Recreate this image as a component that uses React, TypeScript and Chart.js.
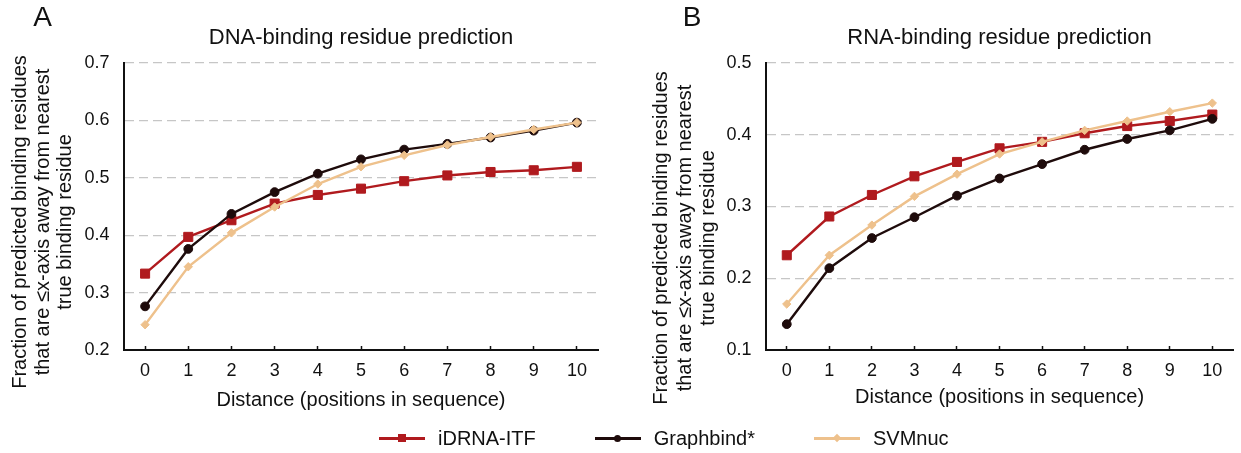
import React, { useEffect, useRef } from 'react';
import { Chart, registerables } from 'chart.js';

Chart.register(...registerables);

const FONT = "'Liberation Sans', Arial, Helvetica, sans-serif";

const distances = ['0', '1', '2', '3', '4', '5', '6', '7', '8', '9', '10'];

const dnaIdrna = [0.333, 0.397, 0.426, 0.455, 0.470, 0.481, 0.494, 0.504, 0.510, 0.513, 0.519];
const dnaGraphbind = [0.276, 0.376, 0.437, 0.475, 0.507, 0.532, 0.549, 0.559, 0.570, 0.582, 0.596];
const dnaSvmnuc = [0.244, 0.345, 0.404, 0.449, 0.489, 0.519, 0.539, 0.557, 0.571, 0.584, 0.596];

const rnaIdrna = [0.232, 0.286, 0.316, 0.342, 0.362, 0.381, 0.390, 0.402, 0.412, 0.419, 0.428];
const rnaGraphbind = [0.136, 0.214, 0.256, 0.285, 0.315, 0.339, 0.359, 0.379, 0.394, 0.406, 0.422];
const rnaSvmnuc = [0.164, 0.232, 0.274, 0.314, 0.345, 0.373, 0.390, 0.406, 0.419, 0.432, 0.444];

const dnaTicks = [0.2, 0.3, 0.4, 0.5, 0.6, 0.7];
const rnaTicks = [0.1, 0.2, 0.3, 0.4, 0.5];

const seriesNames = ['iDRNA-ITF', 'Graphbind*', 'SVMnuc'];
const seriesColors = ['#B01A1E', '#1E0B0B', '#EEC18C'];
const seriesPointStyles = ['rect', 'circle', 'rectRot'];
const seriesPointRadius = [6.4, 4.4, 4.2];

const yTitleLines = [
  'Fraction of predicted binding residues',
  'that are ≤x-axis away from nearest',
  'true binding residue',
];
const xTitle = 'Distance (positions in sequence)';

const textPlugin = {
  id: 'panelText',
  afterDraw(chart: any, _args: any, opts: any) {
    const ctx = chart.ctx;
    ctx.save();
    ctx.fillStyle = '#111';
    ctx.textAlign = 'center';
    ctx.textBaseline = 'middle';
    ctx.font = `28px ${FONT}`;
    ctx.fillText(opts.letter, opts.letterX, opts.letterY);
    ctx.font = `20px ${FONT}`;
    opts.lines.forEach((line: string, i: number) => {
      ctx.save();
      ctx.translate(opts.lineX[i], opts.lineY);
      ctx.rotate(-Math.PI / 2);
      ctx.fillText(line, 0, 0);
      ctx.restore();
    });
    ctx.restore();
  },
};

type PanelProps = {
  letter: string;
  title: string;
  series: number[][];
  ticks: number[];
  left: number;
  width: number;
  areaLeft: number;
  padRight: number;
  padBottom: number;
  xAxisHeight: number;
  lineX: number[];
  lineY: number;
  letterX: number;
};

function Panel(p: PanelProps) {
  const ref = useRef<HTMLCanvasElement | null>(null);
  useEffect(() => {
    if (!ref.current) return;
    const min = p.ticks[0];
    const max = p.ticks[p.ticks.length - 1];
    const chart = new Chart(ref.current, {
      type: 'line',
      data: {
        labels: distances,
        datasets: p.series.map((d, i) => ({
          label: seriesNames[i],
          data: d,
          borderColor: seriesColors[i],
          backgroundColor: seriesColors[i],
          pointBackgroundColor: seriesColors[i],
          pointBorderColor: seriesColors[i],
          pointStyle: seriesPointStyles[i] as any,
          pointRadius: seriesPointRadius[i],
          pointBorderWidth: 1,
          borderWidth: 2.4,
          tension: 0,
          order: 3 - i,
        })),
      },
      options: {
        animation: false,
        responsive: false,
        maintainAspectRatio: false,
        layout: { padding: { left: 0, right: p.padRight, top: 0, bottom: p.padBottom } },
        plugins: {
          legend: { display: false },
          tooltip: { enabled: false },
          title: {
            display: true,
            text: p.title,
            fullSize: false,
            color: '#111',
            font: { size: 22, family: FONT, weight: 'normal' as any },
            padding: { top: 24.5, bottom: 12 },
          },
          panelText: {
            letter: p.letter,
            letterX: p.letterX,
            letterY: 18,
            lines: yTitleLines,
            lineX: p.lineX,
            lineY: p.lineY,
          },
        } as any,
        scales: {
          x: {
            type: 'category',
            offset: true,
            afterFit: (s: any) => {
              s.height = p.xAxisHeight;
            },
            grid: {
              display: true,
              drawOnChartArea: false,
              drawTicks: true,
              tickLength: -4,
              tickColor: '#111',
              tickWidth: 1.5,
              color: '#111',
            },
            border: { display: true, color: '#111', width: 2 },
            ticks: {
              color: '#111',
              font: { size: 18, family: FONT },
              padding: 14.5,
              maxRotation: 0,
              autoSkip: false,
            },
            title: {
              display: true,
              text: xTitle,
              color: '#111',
              font: { size: 20, family: FONT },
              padding: { top: 0, bottom: 0 },
            },
          },
          y: {
            type: 'linear',
            min,
            max,
            afterBuildTicks: (s: any) => {
              s.ticks = p.ticks.map((v) => ({ value: v }));
            },
            afterFit: (s: any) => {
              s.width = p.areaLeft;
            },
            grid: {
              drawTicks: false,
              lineWidth: 1.3,
              color: (c: any) => (c.tick && Math.abs(c.tick.value - min) < 1e-9 ? 'rgba(0,0,0,0)' : '#c6c6c6'),
            },
            border: { display: true, color: '#111', width: 2, dash: [9, 5] },
            ticks: {
              color: '#111',
              font: { size: 18, family: FONT },
              padding: 14,
              callback: (v: any) => Number(v).toFixed(1),
            },
          },
        },
      },
      plugins: [textPlugin as any],
    });
    return () => chart.destroy();
  }, []);
  return (
    <canvas
      ref={ref}
      width={p.width}
      height={453}
      style={{ position: 'absolute', left: p.left, top: 0, width: p.width, height: 453, display: 'block' }}
    />
  );
}

function LegendMarker({ i }: { i: number }) {
  const c = seriesColors[i];
  const base: React.CSSProperties = { position: 'absolute', background: c };
  let m: React.CSSProperties;
  if (i === 0) m = { ...base, width: 8, height: 8, left: 19, top: -3 };
  else if (i === 1) m = { ...base, width: 7, height: 7, left: 19.5, top: -2.5, borderRadius: '50%' };
  else m = { ...base, width: 6, height: 6, left: 20, top: -2, transform: 'rotate(45deg)' };
  return (
    <span style={{ position: 'relative', display: 'inline-block', width: 46, height: 2.4, background: c, marginRight: 13 }}>
      <span style={m} />
    </span>
  );
}

export default function App() {
  return (
    <div style={{ position: 'absolute', left: 0, top: 0, width: 1241, height: 453, background: '#fff', overflow: 'hidden' }}>
      <Panel
        letter="A"
        title="DNA-binding residue prediction"
        series={[dnaIdrna, dnaGraphbind, dnaSvmnuc]}
        ticks={dnaTicks}
        left={0}
        width={620}
        areaLeft={123.5}
        padRight={21.5}
        padBottom={41}
        xAxisHeight={62}
        lineX={[20, 43, 65.5]}
        lineY={222}
        letterX={42.5}
      />
      <Panel
        letter="B"
        title="RNA-binding residue prediction"
        series={[rnaIdrna, rnaGraphbind, rnaSvmnuc]}
        ticks={rnaTicks}
        left={620}
        width={621}
        areaLeft={145.5}
        padRight={1.8}
        padBottom={44}
        xAxisHeight={59}
        lineX={[41.6, 65, 88]}
        lineY={238}
        letterX={72}
      />
      <div
        style={{
          position: 'absolute',
          left: 379,
          top: 427,
          display: 'flex',
          alignItems: 'center',
          gap: 59,
          font: `20px ${FONT}`,
          color: '#111',
          whiteSpace: 'nowrap',
        }}
      >
        {seriesNames.map((n, i) => (
          <div key={n} style={{ display: 'flex', alignItems: 'center' }}>
            <LegendMarker i={i} />
            <span>{n}</span>
          </div>
        ))}
      </div>
    </div>
  );
}
